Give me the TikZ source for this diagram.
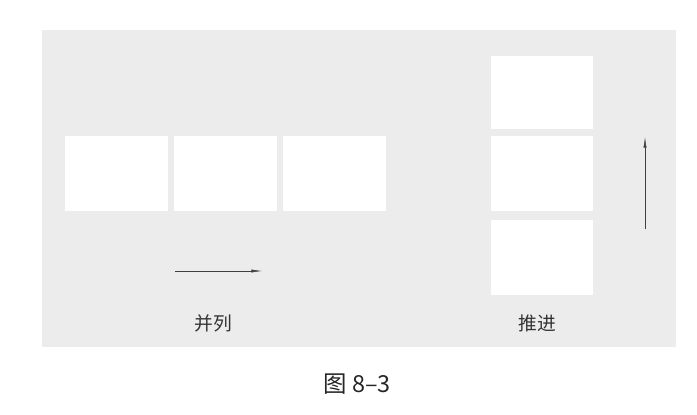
\documentclass[tikz,border=0pt]{standalone}
\usepackage{fontspec}
\newfontfamily\cjk{Noto Sans CJK SC}
\definecolor{paper}{RGB}{236,236,236}
\tikzset{
  cell/.style={fill=white,inner sep=0pt,minimum width=103*0.03cm,minimum height=75*0.03cm},
  lbl/.style={font=\cjk\fontsize{16}{18}\selectfont,text=black!80},
  flow/.style={thin,draw=black!75,-{Latex[length=9pt,width=2.6pt]}}
}
\usetikzlibrary{arrows.meta}
\begin{document}
\begin{tikzpicture}[x=0.03cm,y=-0.03cm]
\useasboundingbox (0,0) rectangle (697,414);
\fill [paper](42,30) rectangle (676,347);
% side by side
\node [cell] (p1) at (116,173) {};
\node [cell] (p2) at (225,173) {};
\node [cell] (p3) at (334,173) {};
\coordinate (ps) at (175,271);
\coordinate (pe) at (262,271);
\draw [flow](ps) -- (pe);
\node [lbl] (pl) at (213,323) {并列};
% one after another
\node [cell,minimum width=102*0.03cm,minimum height=73*0.03cm] (s1) at (542,92) {};
\node [cell,minimum width=102*0.03cm] (s2) at (542,173) {};
\node [cell,minimum width=102*0.03cm] (s3) at (542,257) {};
\coordinate (ss) at (645,229);
\coordinate (se) at (645,137);
\draw [flow](ss) -- (se);
\node [lbl] (sl) at (537,323) {推进};
% caption
\node [font=\cjk\fontsize{20}{22}\selectfont,text=black!85] (cap) at (357,384) {图 8–3};
\end{tikzpicture}
\end{document}
